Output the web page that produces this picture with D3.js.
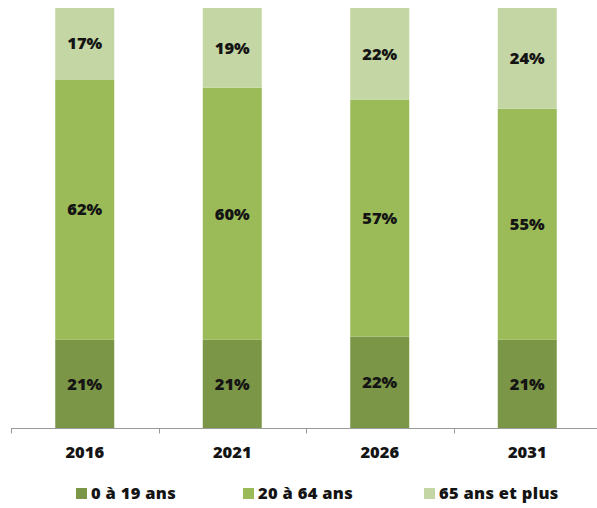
<!DOCTYPE html>
<html><head><meta charset="utf-8">
<script src="https://cdn.jsdelivr.net/npm/d3@7"></script>
<style>body{margin:0;background:#fff}svg{display:block}text{font-family:"Open Sans",sans-serif;font-weight:800;fill:#141414}</style>
</head><body>
<script>
const years = ["2016","2021","2026","2031"];
const seriesNames = ["0 à 19 ans","20 à 64 ans","65 ans et plus"];
const age0_19 = [21,21,22,21];
const age20_64 = [62,60,57,55];
const age65plus = [17,19,22,24];
const colors = ["#7B9646","#9BBB59","#C4D6A3"];

const W=597,H=508;
const svg=d3.select("body").append("svg").attr("width",W).attr("height",H);
const rows=years.map((y,i)=>({year:y,a:age0_19[i],b:age20_64[i],c:age65plus[i]}));
const stack=d3.stack().keys(["a","b","c"]).offset(d3.stackOffsetExpand)(rows);
const vals=[age0_19,age20_64,age65plus];

const x=d3.scaleBand().domain(years).range([11,601]).paddingInner(0.6).paddingOuter(0.3);
const y=d3.scaleLinear().domain([0,1]).range([428,8]);

stack.forEach((s,si)=>{
  const g=svg.append("g");
  g.selectAll("rect").data(s).join("rect")
    .attr("x",d=>x(d.data.year)).attr("width",x.bandwidth())
    .attr("y",d=>y(d[1])).attr("height",d=>y(d[0])-y(d[1]))
    .attr("fill",colors[si]);
  g.selectAll("text").data(s).join("text")
    .attr("x",d=>x(d.data.year)+x.bandwidth()/2)
    .attr("y",d=>(y(d[0])+y(d[1]))/2)
    .attr("text-anchor","middle").attr("dy","0.35em")
    .style("font-size","16.5px")
    .text((d,i)=>vals[si][i]+"%");
});

// axis
const ax=svg.append("g").attr("transform","translate(0,428.5)");
ax.append("line").attr("x1",11).attr("x2",W).attr("stroke","#9a9a9a").attr("stroke-width",1);
const bounds=years.map(yv=>x(yv)-x.step()*x.paddingInner()/2);
ax.selectAll("line.t").data(bounds).join("line").attr("class","t")
  .attr("x1",d=>Math.round(d)+0.5).attr("x2",d=>Math.round(d)+0.5).attr("y1",0).attr("y2",5)
  .attr("stroke","#9a9a9a");
ax.selectAll("text").data(years).join("text")
  .attr("x",d=>x(d)+x.bandwidth()/2).attr("y",24).attr("dy","0.35em")
  .attr("text-anchor","middle").style("font-size","16.5px").text(d=>d);

// legend
const legX=[91,258,439];
const lg=svg.append("g");
seriesNames.forEach((n,i)=>{
  lg.append("rect").attr("x",legX[i]-15).attr("y",488).attr("width",11).attr("height",11).attr("fill",colors[i]);
  lg.append("text").attr("x",legX[i]).attr("y",493.5).attr("dy","0.35em").style("font-size","16.5px").style("letter-spacing","0.3px").text(n);
});
</script>
</body></html>
